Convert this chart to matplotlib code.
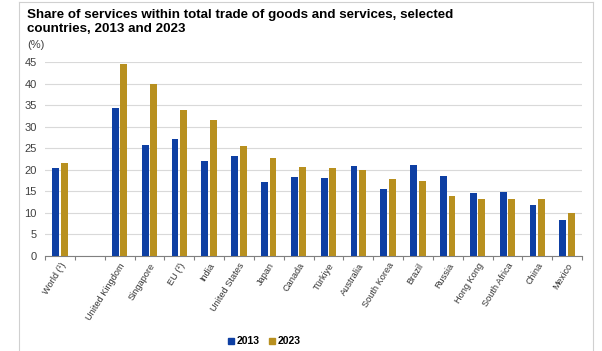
import matplotlib
matplotlib.use('Agg')
import matplotlib.pyplot as plt
import numpy as np
from matplotlib.lines import Line2D

plt.rcParams['font.family'] = ['Liberation Sans', 'DejaVu Sans']

countries = ['World (¹)', '', 'United Kingdom', 'Singapore', 'EU (²)', 'India',
             'United States', 'Japan', 'Canada', 'Türkiye', 'Australia',
             'South Korea', 'Brazil', 'Russia', 'Hong Kong', 'South Africa',
             'China', 'Mexico']
share_2013 = [20.5, np.nan, 34.3, 25.8, 27.1, 22.1, 23.3, 17.1, 18.2, 18.1,
              20.9, 15.6, 21.2, 18.6, 14.7, 14.8, 11.9, 8.3]
share_2023 = [21.5, np.nan, 44.6, 40.0, 34.0, 31.5, 25.5, 22.8, 20.7, 20.3,
              19.9, 17.9, 17.3, 13.9, 13.1, 13.1, 13.1, 9.9]

blue = '#0E3FA3'
gold = '#B8901F'

fig = plt.figure(figsize=(6.02, 3.51), dpi=100)
ax = fig.add_axes([0.0748, 0.2715, 0.892, 0.551])

x = np.arange(len(countries))
w = 0.23
ax.bar(x - 0.143, share_2013, w, color=blue, label='2013', zorder=3)
ax.bar(x + 0.143, share_2023, w, color=gold, label='2023', zorder=3)

ax.set_xlim(-0.5, len(countries) - 0.5)
ax.set_ylim(0, 45)
ax.set_yticks(range(0, 46, 5))
ax.yaxis.grid(True, color='#D9D9D9', linewidth=0.8, zorder=0)
for s in ['top', 'right', 'left']:
    ax.spines[s].set_visible(False)
ax.spines['bottom'].set_color('#808080')
ax.tick_params(axis='y', length=0, labelsize=8, labelcolor='#404040', pad=6)

# boundary ticks between categories, labels at centers
ax.set_xticks(np.arange(-0.5, len(countries), 1.0))
ax.set_xticklabels([])
ax.tick_params(axis='x', which='major', length=3, color='#808080', direction='out')
ax.set_xticks(x, minor=True)
ax.set_xticklabels(countries, minor=True, rotation=58, ha='right',
                   rotation_mode='anchor', fontsize=6.6, color='#333333')
ax.tick_params(axis='x', which='minor', length=0, pad=4)

fig.text(0.045, 0.975, 'Share of services within total trade of goods and services, selected\ncountries, 2013 and 2023',
         fontsize=9.65, fontweight='bold', va='top', ha='left', linespacing=1.3)
fig.text(0.045, 0.872, '(%)', fontsize=8, color='#404040', va='center', ha='left')

handles = [Line2D([], [], marker='s', linestyle='', color=blue, markersize=4),
           Line2D([], [], marker='s', linestyle='', color=gold, markersize=4)]
leg = fig.legend(handles, ['2013', '2023'], loc='center', bbox_to_anchor=(0.438, 0.028),
                 ncol=2, frameon=False, prop={'size': 7.5, 'weight': 'bold'},
                 handletextpad=0.1, columnspacing=0.8, handlelength=0.8)

# light frame around the chart
frame_col = '#D0D0D0'
fig.add_artist(Line2D([0.032, 0.032], [0, 0.994], color=frame_col, lw=0.8))
fig.add_artist(Line2D([0.985, 0.985], [0, 0.994], color=frame_col, lw=0.8))
fig.add_artist(Line2D([0.032, 0.985], [0.994, 0.994], color=frame_col, lw=0.8))

fig.savefig('out.png', dpi=100)
